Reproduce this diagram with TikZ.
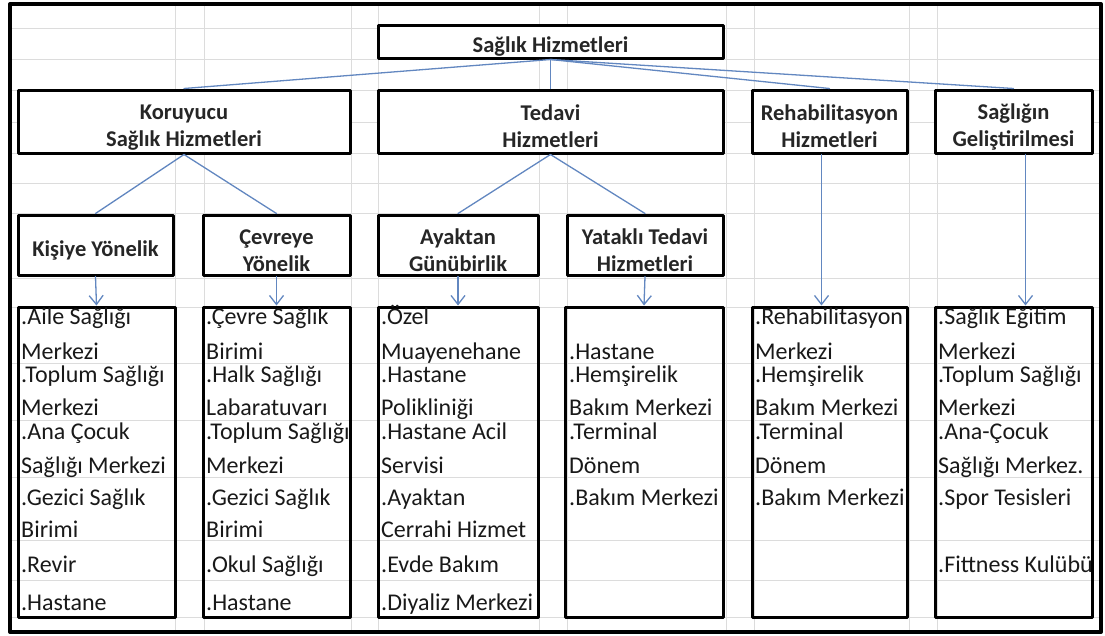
\documentclass[tikz,border=0pt]{standalone}
\usepackage{fontspec}
\setmainfont{Carlito}
\usetikzlibrary{arrows.meta}
\definecolor{linkblue}{RGB}{98,135,192}
\definecolor{gridgray}{RGB}{220,220,220}
\newcommand\hdstrut{\rule{0pt}{26pt}}
\tikzset{
	headbox/.style={draw,line width=3pt,fill=white,inner sep=0pt,align=center,font=\bfseries\fontsize{22.5}{27}\selectfont,text=black!85},
	listbox/.style={draw,line width=3pt,inner sep=0pt,minimum height=310pt},
	item/.style={anchor=base west,inner sep=0pt,font=\fontsize{24}{26}\selectfont,text=black!90},
	link/.style={linkblue,line width=1.3pt},
	linkarrow/.style={link,-{Straight Barb[length=9pt,width=14pt]}}
}
\begin{document}
\begin{tikzpicture}[x=1pt,y=-1pt,line cap=round,line join=round]
	\useasboundingbox (0,0) rectangle (1105,635);
	% sheet grid
	\foreach \gx in {175,204,351,378,539,567,726,754,909,937}
		\draw[gridgray,line width=0.8pt] (\gx,4) -- (\gx,632);
	\foreach \gy in {28,59,90,122,153,183,213,278,307,363,420,477,540,580,617}
		\draw[gridgray,line width=0.8pt] (10,\gy) -- (1101,\gy);
	\draw[line width=4pt] (10,4) rectangle (1101,632);
	% headers
	\node[headbox,minimum width=345pt,minimum height=33pt] (top) at (550.5,41.5) {\hdstrut Sağlık Hizmetleri};
	\node[headbox,minimum width=332pt,minimum height=63pt] (kor) at (184,121.5) {\hdstrut Koruyucu\\Sağlık Hizmetleri};
	\node[headbox,minimum width=345pt,minimum height=63pt] (ted) at (550.5,121.5) {\hdstrut Tedavi\\Hizmetleri};
	\node[headbox,minimum width=155pt,minimum height=63pt] (reh) at (829.5,121.5) {\hdstrut Rehabilitasyon\\Hizmetleri};
	\node[headbox,minimum width=157pt,minimum height=63pt] (gel) at (1013.5,121.5) {\hdstrut Sağlığın\\Geliştirilmesi};
	\node[headbox,minimum width=155pt,minimum height=60pt] (kis) at (95.5,245) {\hdstrut Kişiye Yönelik};
	\node[headbox,minimum width=147pt,minimum height=60pt] (cev) at (276.5,245) {\hdstrut Çevreye\\Yönelik};
	\node[headbox,minimum width=160pt,minimum height=60pt] (ayk) at (458,245) {\hdstrut Ayaktan\\Günübirlik};
	\node[headbox,minimum width=156pt,minimum height=60pt] (yat) at (645,245) {\hdstrut Yataklı Tedavi\\Hizmetleri};
	% lists
	\node[listbox,minimum width=157pt] (lkis) at (96.5,462) {};
	\node[listbox,minimum width=147pt] (lcev) at (276.5,462) {};
	\node[listbox,minimum width=160pt] (layk) at (458,462) {};
	\node[listbox,minimum width=158pt] (lyat) at (644,462) {};
	\node[listbox,minimum width=155pt] (lreh) at (829.5,462) {};
	\node[listbox,minimum width=157pt] (lgel) at (1013.5,462) {};
	\foreach \y/\t [count=\i] in {324/.Aile Sağlığı,359/Merkezi,382/.Toplum Sağlığı,415/Merkezi,439/.Ana Çocuk,473/Sağlığı Merkezi,505/.Gezici Sağlık,537/Birimi,572/.Revir,610/.Hastane}
		\node[item] (kis\i) at (21,\y) {\t};
	\foreach \y/\t [count=\i] in {324/.Çevre Sağlık,359/Birimi,382/.Halk Sağlığı,415/Labaratuvarı,439/.Toplum Sağlığı,473/Merkezi,505/.Gezici Sağlık,537/Birimi,572/.Okul Sağlığı,610/.Hastane}
		\node[item] (cev\i) at (206,\y) {\t};
	\foreach \y/\t [count=\i] in {324/.Özel,359/Muayenehane,382/.Hastane,415/Polikliniği,439/.Hastane Acil,473/Servisi,505/.Ayaktan,537/Cerrahi Hizmet,572/.Evde Bakım,610/.Diyaliz Merkezi}
		\node[item] (ayk\i) at (381,\y) {\t};
	\foreach \y/\t [count=\i] in {359/.Hastane,382/.Hemşirelik,415/Bakım Merkezi,439/.Terminal,473/Dönem,505/.Bakım Merkezi}
		\node[item] (yat\i) at (569,\y) {\t};
	\foreach \y/\t [count=\i] in {324/.Rehabilitasyon,359/Merkezi,382/.Hemşirelik,415/Bakım Merkezi,439/.Terminal,473/Dönem,505/.Bakım Merkezi}
		\node[item] (reh\i) at (755,\y) {\t};
	\foreach \y/\t [count=\i] in {324/.Sağlık Eğitim,359/Merkezi,382/.Toplum Sağlığı,415/Merkezi,439/.Ana-Çocuk,473/Sağlığı Merkez.,505/.Spor Tesisleri,572/.Fittness Kulübü}
		\node[item] (gel\i) at (938,\y) {\t};
	% connectors
	\draw[link] (top.south) -- (kor.north);
	\draw[link] (top.south) -- (ted.north);
	\draw[link] (top.south) -- (reh.north);
	\draw[link] (top.south) -- (gel.north);
	\draw[link] (kor.south) -- (kis.north);
	\draw[link] (kor.south) -- (cev.north);
	\draw[link] (ted.south) -- (ayk.north);
	\draw[link] (ted.south) -- (yat.north);
	\draw[linkarrow] (kis.south) -- (lkis.north);
	\draw[linkarrow] (cev.south) -- (lcev.north);
	\draw[linkarrow] (ayk.south) -- (layk.north);
	\draw[linkarrow] (yat.south) -- (lyat.north);
	\draw[linkarrow] ([xshift=-8pt]reh.south) -- ([xshift=-8pt]lreh.north);
	\draw[linkarrow] ([xshift=12pt]gel.south) -- ([xshift=12pt]lgel.north);
\end{tikzpicture}
\end{document}
